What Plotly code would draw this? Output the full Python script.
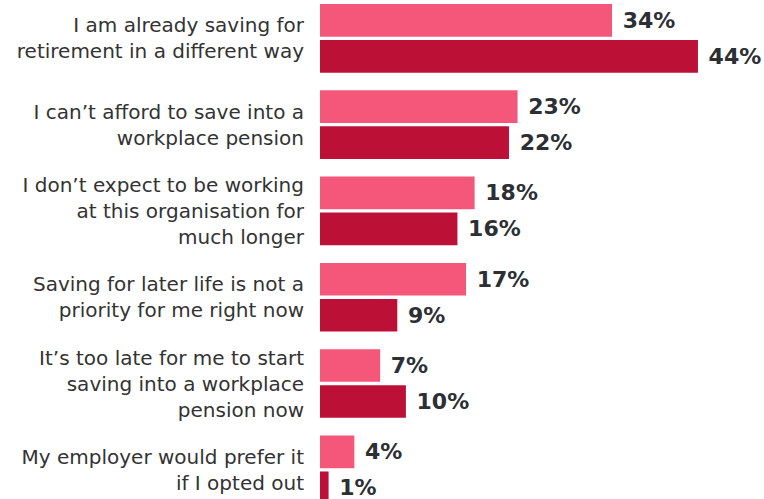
import plotly.graph_objects as go

categories = [
    "I am already saving for<br>retirement in a different way",
    "I can’t afford to save into a<br>workplace pension",
    "I don’t expect to be working<br>at this organisation for<br>much longer",
    "Saving for later life is not a<br>priority for me right now",
    "It’s too late for me to start<br>saving into a workplace<br>pension now",
    "My employer would prefer it<br>if I opted out",
]
series_a = [34, 23, 18, 17, 7, 4]
series_b = [44, 22, 16, 9, 10, 1]

PINK = "#F45779"
CRIMSON = "#BD1036"
LABEL_DARK = "#2c2f33"
FONT = "DejaVu Sans, Verdana, sans-serif"

fig = go.Figure()
for vals, color, name in [(series_a, PINK, "A"), (series_b, CRIMSON, "B")]:
    fig.add_trace(go.Bar(
        y=categories,
        x=vals,
        orientation="h",
        name=name,
        marker=dict(color=color, line=dict(width=0)),
        text=[f" {v}%" for v in vals],
        textposition="outside",
        textfont=dict(family=FONT, size=22, color=LABEL_DARK, weight="bold"),
        cliponaxis=False,
        hoverinfo="skip",
    ))

fig.update_layout(
    width=764,
    height=499,
    margin=dict(l=320, r=0, t=0, b=0),
    paper_bgcolor="white",
    plot_bgcolor="white",
    showlegend=False,
    barmode="group",
    bargap=0.166,
    bargroupgap=0.092,
    font=dict(family=FONT, size=20, color="#333333"),
    xaxis=dict(range=[0, 51.69], visible=False, fixedrange=True),
    yaxis=dict(
        type="category",
        range=[5.338, -0.444],
        showgrid=False,
        zeroline=False,
        showline=False,
        ticks="",
        ticklabelstandoff=15,
        tickfont=dict(family=FONT, size=20, color="#333333"),
    ),
)

fig.write_html("out.html")
